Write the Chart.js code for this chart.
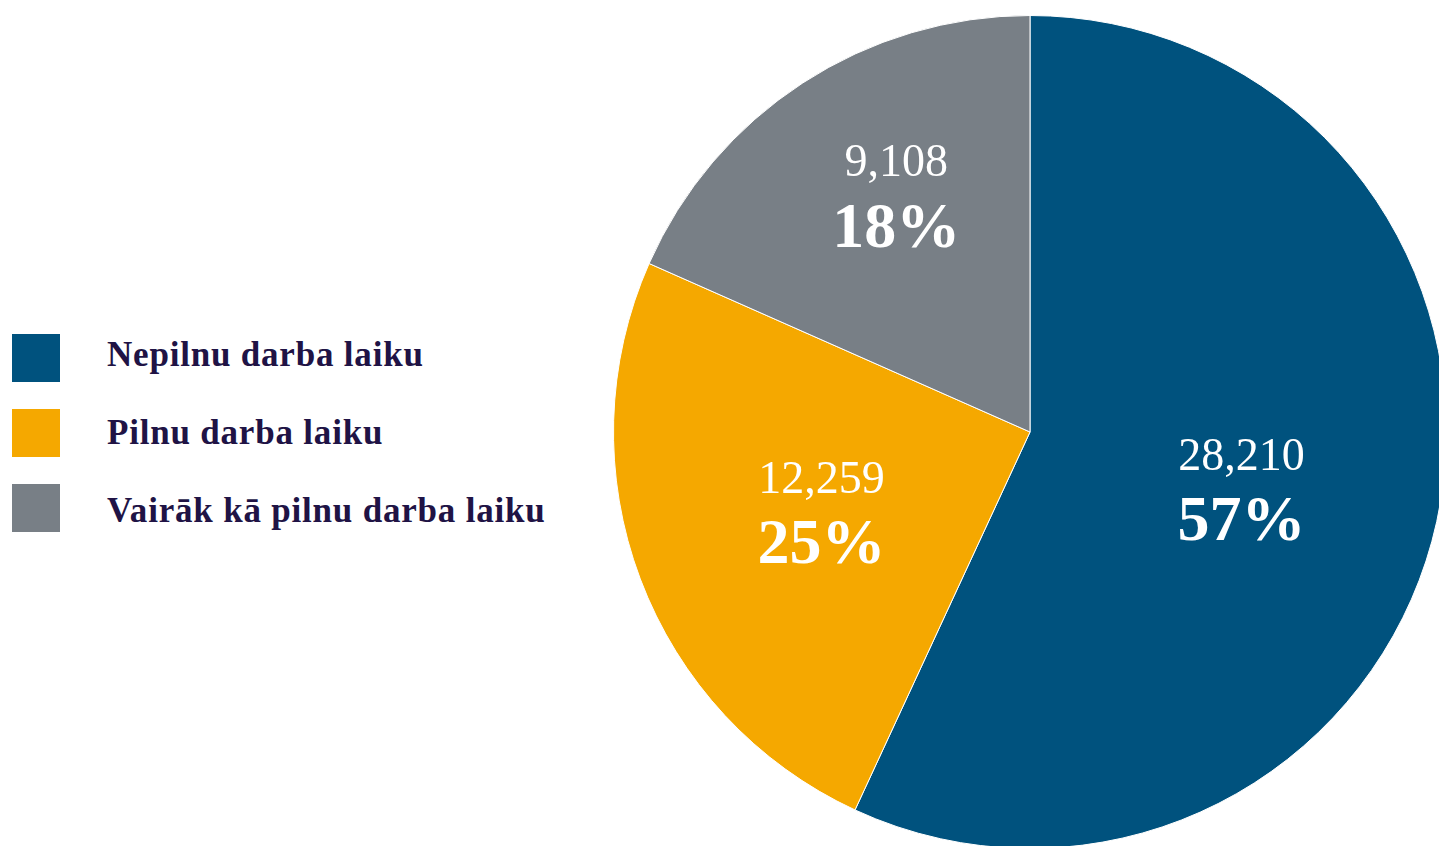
<!DOCTYPE html>
<html>
<head>
<meta charset="utf-8">
<script src="https://cdn.jsdelivr.net/npm/chart.js@4.4.1/dist/chart.umd.min.js"></script>
<style>
    html, body { margin: 0; padding: 0; background: #fff; }
    body { width: 1439px; height: 846px; overflow: hidden; position: relative; }
    .chart-container { position: absolute; left: 610px; top: 12px; width: 840px; height: 840px; }
    .legend-boxes { position: absolute; left: 12px; top: 334px; }
    .legend-box { width: 48px; height: 48px; margin-bottom: 27px; }
    .legend-texts { position: absolute; left: 107px; top: 316px; }
    .legend-text {
        height: 78px;
        line-height: 78px;
        font-family: "Liberation Serif", "DejaVu Serif", serif;
        font-weight: bold;
        font-size: 35px;
        letter-spacing: 0.8px;
        color: #201345;
        white-space: nowrap;
    }
</style>
</head>
<body>
<div class="legend-boxes"></div>
<div class="legend-texts"></div>
<div class="chart-container"><canvas id="pie"></canvas></div>
<script>
var labels = ['Nepilnu darba laiku', 'Pilnu darba laiku', 'Vairāk kā pilnu darba laiku'];
var values = [28210, 12259, 9108];
var colors = ['#00527e', '#f5a800', '#787f86'];

// label placement: share of radius along the slice middle, plus a small nudge in px
var labelRadius = [0.52, 0.535, 0.655];
var labelNudgeX = [0, 0, 15];
var labelNudgeY = [12, 3, -6];

function buildLegend() {
    var boxes = document.querySelector('.legend-boxes');
    var texts = document.querySelector('.legend-texts');
    for (var i in labels) {
        var box = document.createElement('div');
        box.classList.add('legend-box');
        box.style.background = colors[i];
        boxes.appendChild(box);

        var text = document.createElement('div');
        text.classList.add('legend-text');
        text.textContent = labels[i];
        texts.appendChild(text);
    }
}

var sliceLabels = {
    id: 'sliceLabels',
    afterDatasetsDraw: function(chart) {
        var ctx = chart.ctx;
        var meta = chart.getDatasetMeta(0);
        var total = values.reduce(function(a, b) { return a + b; }, 0);
        ctx.save();
        ctx.fillStyle = '#ffffff';
        ctx.textAlign = 'center';
        ctx.textBaseline = 'middle';
        meta.data.forEach(function(arc, i) {
            var mid = (arc.startAngle + arc.endAngle) / 2;
            var r = arc.outerRadius * labelRadius[i];
            var x = arc.x + Math.cos(mid) * r + labelNudgeX[i];
            var y = arc.y + Math.sin(mid) * r + labelNudgeY[i];
            ctx.font = '46px "Liberation Serif", serif';
            ctx.fillText(values[i].toLocaleString('en-US'), x, y - 33);
            ctx.font = 'bold 64px "Liberation Serif", serif';
            ctx.fillText(Math.round(values[i] / total * 100) + '%', x, y + 33);
        });
        ctx.restore();
    }
};

function drawChart() {
    var ctx = document.getElementById('pie').getContext('2d');
    new Chart(ctx, {
        type: 'pie',
        data: {
            labels: labels,
            datasets: [{
                data: values,
                backgroundColor: colors,
                borderColor: '#ffffff',
                borderWidth: 1
            }]
        },
        options: {
            responsive: true,
            maintainAspectRatio: false,
            animation: false,
            layout: { padding: 3 },
            plugins: {
                legend: { display: false },
                tooltip: { enabled: false }
            }
        },
        plugins: [sliceLabels]
    });
}

buildLegend();
drawChart();
</script>
</body>
</html>
